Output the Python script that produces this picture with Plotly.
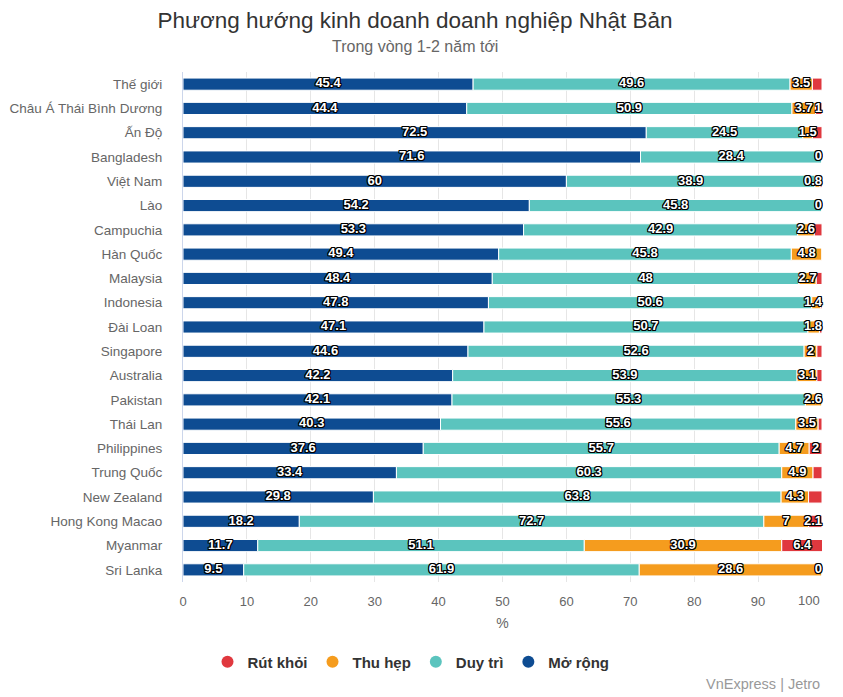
import plotly.graph_objects as go

categories = ["Thế giới", "Châu Á Thái Bình Dương", "Ấn Độ", "Bangladesh", "Việt Nam", "Lào",
              "Campuchia", "Hàn Quốc", "Malaysia", "Indonesia", "Đài Loan", "Singapore",
              "Australia", "Pakistan", "Thái Lan", "Philippines", "Trung Quốc", "New Zealand",
              "Hong Kong Macao", "Myanmar", "Sri Lanka"]
mo_rong = [45.4, 44.4, 72.5, 71.6, 60, 54.2, 53.3, 49.4, 48.4, 47.8, 47.1, 44.6, 42.2, 42.1, 40.3, 37.6, 33.4, 29.8, 18.2, 11.7, 9.5]
duy_tri = [49.6, 50.9, 24.5, 28.4, 38.9, 45.8, 42.9, 45.8, 48, 50.6, 50.7, 52.6, 53.9, 55.3, 55.6, 55.7, 60.3, 63.8, 72.7, 51.1, 61.9]
thu_hep = [3.5, 3.7, 1.5, 0, 0.8, 0, 2.6, 4.8, 2.7, 1.4, 1.8, 2, 3.1, 2.6, 3.5, 4.7, 4.9, 4.3, 7, 30.9, 28.6]
rut_khoi = [1.5, 1, 1.5, 0, 0.3, 0, 1.2, 0, 0.9, 0.2, 0.4, 0.8, 0.8, 0, 0.6, 2, 1.4, 2.1, 2.1, 6.4, 0]
# labels that the original shows for the two small series (others hidden by overlap)
rut_khoi_label_shown = ["Châu Á Thái Bình Dương", "Bangladesh", "Lào", "Philippines", "Hong Kong Macao", "Myanmar", "Sri Lanka"]
thu_hep_label_hidden = ["Bangladesh", "Lào"]
tick_vals = [0, 10, 20, 30, 40, 50, 60, 70, 80, 90, 100]

colors = {"Mở rộng": "#0e4c92", "Duy trì": "#5bc4be", "Thu hẹp": "#f59c1e", "Rút khỏi": "#e0383e"}

FONT = "Liberation Sans, Arial, sans-serif"
shadow = ("-1px -1px 0 #000, 1px -1px 0 #000, -1px 1px 0 #000, 1px 1px 0 #000, "
          "0 1px 0 #000, 0 -1px 0 #000, 1px 0 0 #000, -1px 0 0 #000")
lblfont = dict(family=FONT, size=13, color="white", weight="bold", shadow=shadow)

# page geometry (the html body adds an 8px offset)
OFF = 8
FIG_W, FIG_H = 843 - OFF, 697 - OFF
PLOT_TOP, PLOT_BOTTOM, PLOT_LEFT, PLOT_RIGHT = 72, 582, 183, 822   # page pixels
PW = PLOT_RIGHT - PLOT_LEFT
PH = PLOT_BOTTOM - PLOT_TOP
XMAX = tick_vals[-1]
def py(page_y):
    return (PLOT_BOTTOM - page_y) / PH
def px(page_x):
    return (page_x - PLOT_LEFT) / PW
CENTER = 415

def fmt(v):
    return "%g" % v

series = [
    ("Mở rộng", mo_rong, [fmt(v) for v in mo_rong]),
    ("Duy trì", duy_tri, [fmt(v) for v in duy_tri]),
    ("Thu hẹp", thu_hep, ["" if c in thu_hep_label_hidden else fmt(v) for c, v in zip(categories, thu_hep)]),
    ("Rút khỏi", rut_khoi, [fmt(v) if c in rut_khoi_label_shown else "" for c, v in zip(categories, rut_khoi)]),
]

fig = go.Figure()
base = [0.0] * len(categories)
label_traces = []
for name, vals, txt in series:
    fig.add_trace(go.Bar(
        y=categories, x=vals, base=base, orientation="h", name=name,
        marker=dict(color=colors[name], line=dict(color="white", width=1)),
        showlegend=False, hoverinfo="x+y+name",
    ))
    lx, ly, lt, lp = [], [], [], []
    for c, b, v, t in zip(categories, base, vals, txt):
        if not t:
            continue
        mid = b + v / 2
        half = (len(t) * 7.4 + 2) / 2 / (PW / XMAX)
        if mid + half > XMAX:
            lx.append(XMAX); lp.append("middle left")
        else:
            lx.append(mid); lp.append("middle center")
        ly.append(c); lt.append(t)
    label_traces.append(go.Scatter(x=lx, y=ly, text=lt, mode="text", textposition=lp,
                                   textfont=lblfont, showlegend=False, hoverinfo="skip",
                                   cliponaxis=False))
    base = [b + v for b, v in zip(base, vals)]

for tr in label_traces:
    fig.add_trace(tr)

# legend entries with circles
for name in ["Mở rộng", "Duy trì", "Thu hẹp", "Rút khỏi"]:
    fig.add_trace(go.Scatter(x=[None], y=[None], mode="markers", name=name,
                             marker=dict(symbol="circle", size=16, color=colors[name])))

fig.update_layout(
    width=FIG_W, height=FIG_H,
    barmode="overlay", bargap=0.5,
    plot_bgcolor="white", paper_bgcolor="white",
    margin=dict(l=PLOT_LEFT - OFF, r=FIG_W - (PLOT_RIGHT - OFF), t=PLOT_TOP - OFF,
                b=FIG_H - (PLOT_BOTTOM - OFF), autoexpand=False),
    font=dict(family=FONT, color="#666", size=13),
    title=dict(text="Phương hướng kinh doanh doanh nghiệp Nhật Bản", x=(CENTER - OFF) / FIG_W,
               xanchor="center", y=1 - (20 - OFF) / FIG_H, yanchor="middle", yref="container",
               font=dict(size=22.5, color="#333", family=FONT)),
    xaxis=dict(range=[0, XMAX], tickvals=tick_vals[:-1], showgrid=True, gridcolor="#e6e6e6",
               zeroline=False, ticks="", ticklabelstandoff=10, tickfont=dict(size=13, color="#666"),
               title=dict(text="%", font=dict(size=14, color="#666"), standoff=10), fixedrange=True),
    yaxis=dict(range=[len(categories) - 0.5, -0.5], showline=True, linecolor="#ccd6eb", linewidth=1,
               ticks="", ticklabelstandoff=17, tickfont=dict(size=13.5, color="#666"), fixedrange=True),
    legend=dict(orientation="h", x=px(CENTER - 4), xanchor="center", y=py(662), yanchor="middle",
                traceorder="reversed", font=dict(size=15, color="#333", weight="bold"),
                itemsizing="constant"),
    annotations=[
        dict(text="Trong vòng 1-2 năm tới", x=px(CENTER), xref="paper", xanchor="center",
             y=py(47), yref="paper", yanchor="middle", showarrow=False,
             font=dict(size=16, color="#666")),
        dict(text=str(tick_vals[-1]), x=tick_vals[-1], xref="x", xanchor="right",
             y=py(600), yref="paper", yanchor="middle", showarrow=False,
             font=dict(size=13, color="#666")),
        dict(text="VnExpress | Jetro", x=1, xref="paper", xanchor="right",
             y=py(684), yref="paper", yanchor="middle", showarrow=False,
             font=dict(size=14.5, color="#999")),
    ],
)

fig.write_html("out.html")
